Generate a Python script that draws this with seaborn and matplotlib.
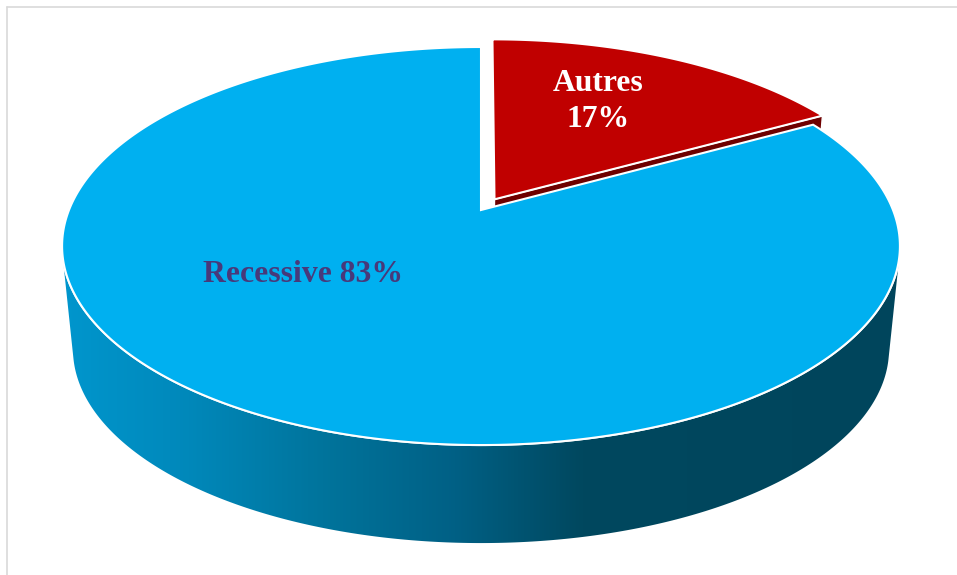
import numpy as np
import matplotlib
matplotlib.use("Agg")
import matplotlib.pyplot as plt
from matplotlib.patches import Polygon
from matplotlib.colors import LinearSegmentedColormap
import seaborn as sns

# ---- data -------------------------------------------------------------
categories = ["Autres", "Recessive"]
shares = [17, 83]
explode = [0.065, 0.0]
label_sep = ["\n", " "]

# ---- style ------------------------------------------------------------
sns.set_theme(style="white")
plt.rcParams["font.family"] = ["Liberation Serif", "DejaVu Serif"]

top_colors = sns.color_palette(["#C00000", "#00B0F0"])
cut_colors = ["#6E0000", "#005A7A"]
label_colors = ["#FFFFFF", "#48397A"]
label_xy = [(598, 127), (303, 281.7)]         # last-line baselines
side_stops = [(0.00, "#0096CD"), (0.15, "#0088BA"), (0.31, "#00749C"),
              (0.47, "#006085"), (0.62, "#00485F"), (1.00, "#00455C")]

W, H = 957, 575
fig = plt.figure(figsize=(W / 100, H / 100), dpi=100)
ax = fig.add_axes([0, 0, 1, 1])
ax.set_xlim(0, W)
ax.set_ylim(H, 0)
ax.axis("off")

# ---- perspective projection of the pie plane ---------------------------
CX, CY = 481.0, 210.0      # projected centre of the disc
RX, RY = 412.0, 192.5      # horizontal / depth scale
K = 0.181                  # perspective foreshortening
VY, S = 4215.0, 0.974      # vanishing point of the walls and base scale


def project(u, v):
    w = 1.0 + K * v
    return np.column_stack([CX + RX * u / w, CY - RY * v / w])


def to_base(pts):
    return np.column_stack([CX + S * (pts[:, 0] - CX), VY + S * (pts[:, 1] - VY)])


def hull(points):
    pts = sorted(map(tuple, points))
    def cross(o, a, b):
        return (a[0] - o[0]) * (b[1] - o[1]) - (a[1] - o[1]) * (b[0] - o[0])
    lower, upper = [], []
    for p in pts:
        while len(lower) >= 2 and cross(lower[-2], lower[-1], p) <= 0:
            lower.pop()
        lower.append(p)
    for p in reversed(pts):
        while len(upper) >= 2 and cross(upper[-2], upper[-1], p) <= 0:
            upper.pop()
        upper.append(p)
    return np.array(lower[:-1] + upper[:-1])


# ---- side wall of the cylinder with horizontal shading -----------------
t = np.radians(np.linspace(0, 360, 721))
rim_top = project(np.cos(t), np.sin(t))
rim_base = to_base(rim_top)
wall = Polygon(hull(np.vstack([rim_top, rim_base])), closed=True,
               facecolor="none", edgecolor="none")
ax.add_patch(wall)
cmap = LinearSegmentedColormap.from_list("wall", side_stops)
x0, x1 = rim_top[:, 0].min(), rim_top[:, 0].max()
grad = np.linspace(0, 1, 512)[None, :]
im = ax.imshow(grad, cmap=cmap, extent=[x0, x1, H, 0], aspect="auto",
               interpolation="bilinear", zorder=1)
im.set_clip_path(wall)
ax.set_xlim(0, W)
ax.set_ylim(H, 0)

# blank the upper disc so only the visible wall remains
ax.add_patch(Polygon(rim_top, closed=True, facecolor="white",
                     edgecolor="white", lw=1.5, zorder=2))

# ---- slices ------------------------------------------------------------
total = float(sum(shares))
start = 90.0
for i, (cat, val) in enumerate(zip(categories, shares)):
    sweep = 360.0 * val / total
    a1, a2 = start, start - sweep
    mid = np.radians((a1 + a2) / 2)
    du, dv = explode[i] * np.cos(mid), explode[i] * np.sin(mid)
    ang = np.radians(np.linspace(a1, a2, 400))
    u = np.concatenate([[du], np.cos(ang) + du, [du]])
    v = np.concatenate([[dv], np.sin(ang) + dv, [dv]])
    face = project(u, v)

    if explode[i] > 0:
        # radial cut face that turns towards the viewer
        for edge in (a1, a2):
            normal = np.radians(edge + (90 if edge == a1 else -90))
            if np.sin(normal) < -0.05:
                e = np.radians(edge)
                top_edge = project(np.array([du, np.cos(e) + du]),
                                   np.array([dv, np.sin(e) + dv]))
                quad = np.vstack([top_edge, to_base(top_edge)[::-1]])
                ax.add_patch(Polygon(quad, closed=True, facecolor=cut_colors[i],
                                     edgecolor="white", lw=1.0, zorder=3))
        z = 5
    else:
        z = 4
    ax.add_patch(Polygon(face, closed=True, facecolor=top_colors[i],
                         edgecolor="white", lw=1.5, zorder=z,
                         joinstyle="miter"))
    ax.text(label_xy[i][0], label_xy[i][1], f"{cat}{label_sep[i]}{val}%",
            ha="center", va="baseline", multialignment="center",
            fontsize=22.8, fontweight="bold", color=label_colors[i],
            linespacing=1.33, zorder=6)
    start = a2

# ---- chart frame -------------------------------------------------------
ax.plot([6.5, W + 5], [6.5, 6.5], color="#D9D9D9", lw=1.2, zorder=7)
ax.plot([6.5, 6.5], [6.5, H + 5], color="#D9D9D9", lw=1.2, zorder=7)

fig.savefig("out.png", dpi=100)
